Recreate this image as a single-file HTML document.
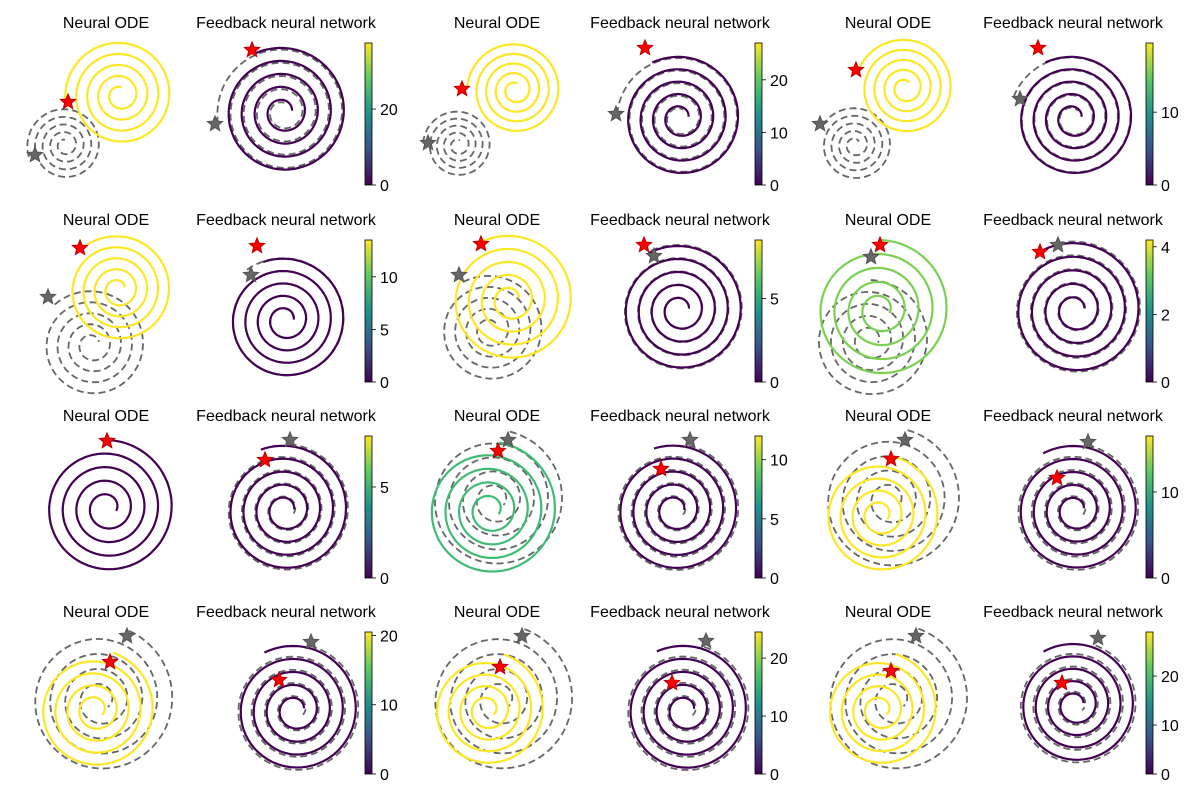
<!DOCTYPE html>
<html><head><meta charset="utf-8"><style>
body{margin:0;background:#fff;}
svg{font-family:"Liberation Sans",sans-serif;}
</style></head><body>
<svg id="fig" width="1200" height="800" viewBox="0 0 1200 800" xmlns="http://www.w3.org/2000/svg">
<defs>
<linearGradient id="viridis" x1="0" y1="1" x2="0" y2="0">
<stop offset="0" stop-color="#440154"/><stop offset="0.25" stop-color="#3b528b"/><stop offset="0.5" stop-color="#21918c"/><stop offset="0.75" stop-color="#5ec962"/><stop offset="1" stop-color="#fde725"/>
</linearGradient>
</defs>
</svg>
<script>
const NS="http://www.w3.org/2000/svg";
const svg=document.getElementById('fig');
// colorbar maxima and ticks, by row then pair
const cbarMax=[[37.4,27,19.5],[13.5,8.5,4.2],[7.8,12,16.5],[20.5,24.5,29]];
const cbarTicks=[[[0,20],[0,10,20],[0,10]],[[0,5,10],[0,5],[0,2,4]],[[0,5],[0,5,10],[0,10]],[[0,10,20],[0,10,20],[0,10,20]]];
const rowTop=[43,240,436,632];
const cbarX=[365,755,1146];
const odeTitleX=[106,497,888];
const fbTitleX=[286,680,1073];
// spiral specs: [cx,cy,R,startX,startY]
const odePred=[[[120,95,55,68,102],[515,90,48,462,89],[905,88,50,856,70]],
[[118,290,55,80,248],[510,300,65,481,244],[880,310,70,880,245]],
[[107,508,68,107,441],[490,510,68,498,451],[880,515,60,891,459]],
[[95,710,60,110,662],[487,710,58,500,667],[880,710,58,891,671]]];
const odeTrue=[[[65,145,38,35,155],[458,145,35,428,143],[855,145,38,820,124]],
[[92,345,55,48,297],[490,330,55,459,275],[870,340,60,871,257]],
[[107,508,68,107,441],[495,500,70,508,440],[890,500,72,905,440]],
[[100,700,75,127,636],[500,700,75,522,636],[895,700,75,916,636]]];
const odeColor=[["#fde725","#fde725","#fde725"],["#fde725","#fde725","#7ad151"],["#440154","#3fbc73","#fde725"],["#fde725","#fde725","#fde725"]];
const fbSpec=[[[283,112,65,252,50,215,124],[680,118,62,645,48,616,114],[1073,118,62,1038,48,1020,99]],
[[285,320,62,257,246,251,275],[680,310,65,644,245,654,256],[1075,310,68,1040,252,1058,245]],
[[285,510,65,265,460,290,440],[675,510,65,661,469,690,440],[1075,510,65,1057,478,1088,442]],
[[295,710,65,279,680,311,642],[685,710,65,672,683,706,641],[1075,705,62,1062,683,1098,638]]];

function el(tag,attrs,parent){const e=document.createElementNS(NS,tag);for(const k in attrs)e.setAttribute(k,attrs[k]);(parent||svg).appendChild(e);return e;}
function spiralPts(cx,cy,R,sx,sy){
  const a0=Math.atan2(sy-cy,sx-cx);const pts=[];const N=400,turns=4.3;
  for(let i=0;i<=N;i++){const t=i/N;const r=R*(1-0.86*t);const a=a0+t*turns*2*Math.PI;pts.push((cx+r*Math.cos(a)).toFixed(1)+','+(cy+r*Math.sin(a)).toFixed(1));}
  return pts.join(' ');
}
function star(x,y,r,fill,stroke,name){
  const p=[];for(let i=0;i<10;i++){const rr=i%2?r*0.45:r;const a=-Math.PI/2+i*Math.PI/5;p.push((x+rr*Math.cos(a)).toFixed(1)+','+(y+rr*Math.sin(a)).toFixed(1));}
  const s=el('polygon',{points:p.join(' '),fill:fill,stroke:stroke,'stroke-width':1});
  
  
}
function text(x,y,str,size,anchor,name){
  const t=el('text',{x:x,y:y,'font-size':size,'text-anchor':anchor,fill:'#000'});t.textContent=str;
  
  
}
for(let r=0;r<4;r++){
  const ty=rowTop[r]-15;
  for(let p=0;p<3;p++){
    text(odeTitleX[p],ty,'Neural ODE',16,'middle','neural-ode-title');
    text(fbTitleX[p],ty,'Feedback neural network',16,'middle','feedback-title');
    const tr=odeTrue[r][p],pr=odePred[r][p];
    const g1=el('polyline',{points:spiralPts(...tr),fill:'none',stroke:'#666','stroke-width':1.8,'stroke-dasharray':'7,4'});
    
    
    const g2=el('polyline',{points:spiralPts(...pr),fill:'none',stroke:odeColor[r][p],'stroke-width':2.2});
    
    
    star(tr[3],tr[4],8,'#666','#555','true-start-star');
    star(pr[3],pr[4],8,'#ff0000','#b00','pred-start-star');
    const f=fbSpec[r][p];
    const g3=el('polyline',{points:spiralPts(f[0],f[1],f[2]+1,f[5],f[6]),fill:'none',stroke:'#666','stroke-width':1.8,'stroke-dasharray':'7,4'});
    
    
    const g4=el('polyline',{points:spiralPts(f[0],f[1],f[2],f[3],f[4]),fill:'none',stroke:'#440154','stroke-width':2.2});
    
    
    star(f[5],f[6],8,'#666','#555','true-start-star');
    star(f[3],f[4],8,'#ff0000','#b00','pred-start-star');
    const cb=el('rect',{x:cbarX[p],y:rowTop[r],width:7,height:142,fill:'url(#viridis)',stroke:'#000','stroke-width':0.8});
    
    
    const mx=cbarMax[r][p];
    cbarTicks[r][p].forEach(v=>{
      const y=rowTop[r]+142-v/mx*142;
      el('line',{x1:cbarX[p]+7,x2:cbarX[p]+11,y1:y,y2:y,stroke:'#000','stroke-width':0.8});
      text(cbarX[p]+15,y+6,String(v),16,'start','colorbar-tick-label');
    });
  }
}
</script>
</body></html>
